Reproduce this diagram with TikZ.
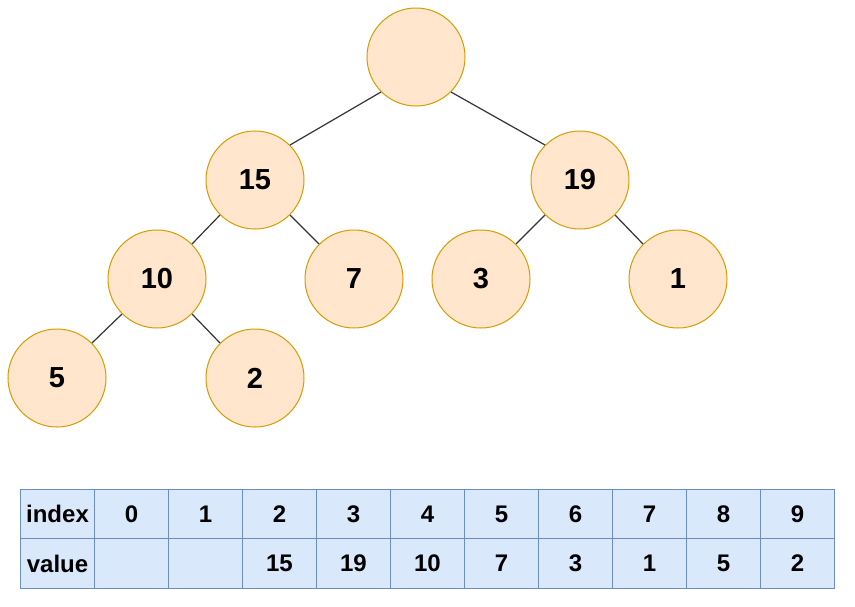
\documentclass[tikz,border=0pt]{standalone}
\usepackage{fontspec}
\setmainfont{Liberation Sans}
\definecolor{nodefill}{HTML}{FFE6CC}
\definecolor{nodedraw}{HTML}{D79B00}
\definecolor{cellfill}{HTML}{DAE8FC}
\definecolor{celldraw}{HTML}{6C8EBF}
\begin{document}
\begin{tikzpicture}[x=1pt,y=-1pt,
  heapnode/.style={circle,fill=nodefill,draw=nodedraw,line width=1pt,minimum size=98pt,inner sep=0pt,font=\fontsize{29}{32}\selectfont\bfseries},
  edge/.style={draw=black!80,line width=1.2pt},
  cell/.style={rectangle,fill=cellfill,draw=celldraw,line width=1pt,minimum width=74pt,minimum height=49.5pt,inner sep=0pt,font=\fontsize{24}{26}\selectfont\bfseries}]
\useasboundingbox (0,0) rectangle (855,606);
\node[heapnode] (r) at (416,57) {};
\node[heapnode] (a) at (255,180) {15};
\node[heapnode] (b) at (580,180) {19};
\node[heapnode] (c) at (157,279) {10};
\node[heapnode] (d) at (354,279) {7};
\node[heapnode] (e) at (481,279) {3};
\node[heapnode] (f) at (678,279) {1};
\node[heapnode] (g) at (57,378) {5};
\node[heapnode] (h) at (255,378) {2};
\draw[edge] (r.south west) -- (a.north east);
\draw[edge] (r.south east) -- (b.north west);
\draw[edge] (a.south west) -- (c.north east);
\draw[edge] (a.south east) -- (d.north west);
\draw[edge] (b.south west) -- (e.north east);
\draw[edge] (b.south east) -- (f.north west);
\draw[edge] (c.south west) -- (g.north east);
\draw[edge] (c.south east) -- (h.north west);
\foreach \i/\t/\v in {0/index/value,1/0/,2/1/,3/2/15,4/3/19,5/4/10,6/5/7,7/6/3,8/7/1,9/8/5,10/9/2}{
  \node[cell] (t\i) at ({20.5+37+74*\i},514) {\t};
  \node[cell] (v\i) at ({20.5+37+74*\i},563.5) {\v};
}
\end{tikzpicture}
\end{document}
